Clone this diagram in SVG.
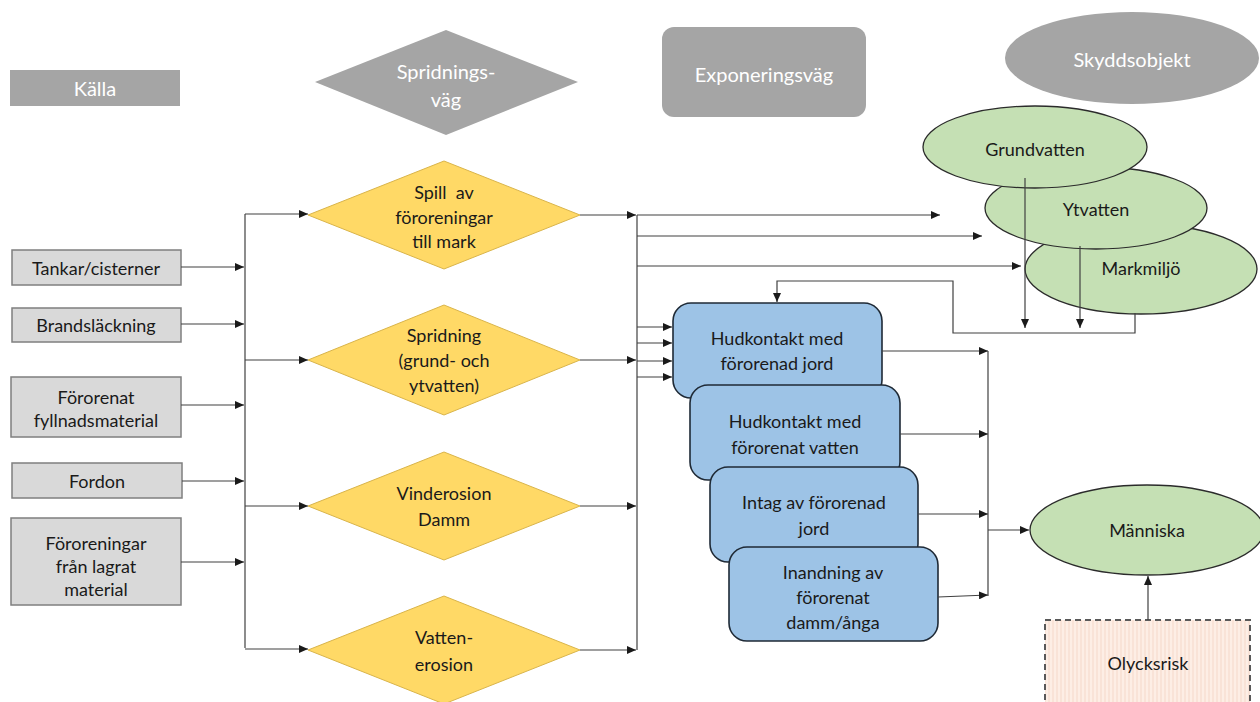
<svg xmlns="http://www.w3.org/2000/svg" width="1260" height="702" viewBox="0 0 1260 702">
<style>
text{font-family:Lato,"Open Sans","Liberation Sans",sans-serif;font-size:18px;fill:#1a1a1a;text-anchor:middle;dominant-baseline:central}
.hd{fill:#a5a5a5;stroke:none}
.hdt{fill:#ffffff;font-size:20px}
.src{fill:#d9d9d9;stroke:#7f7f7f;stroke-width:1.5}
.dia{fill:#ffd966;stroke:#d9b44a;stroke-width:1}
.exp{fill:#9dc3e6;stroke:#1f2a36;stroke-width:1.6}
.grn{fill:#c5e0b4;stroke:#2b2b2b;stroke-width:1.3}
.ln{fill:none;stroke:#404040;stroke-width:1.2}
.arr{marker-end:url(#ah)}
</style>
<defs>
<marker id="ah" markerUnits="userSpaceOnUse" markerWidth="9" markerHeight="8" refX="9" refY="4" orient="auto">
<path d="M0,0 L9,4 L0,8 z" fill="#1a1a1a"/>
</marker>
<pattern id="stripe" patternUnits="userSpaceOnUse" width="4" height="4">
<rect width="4" height="4" fill="#fdeee5"/>
<line x1="1" y1="0" x2="1" y2="4" stroke="#f6d9c9" stroke-width="1"/>
</pattern>
</defs>

<g id="hdr-kalla"><rect class="hd" x="10" y="70" width="170" height="36"/><text class="hdt" x="95" y="88">Källa</text></g>
<g id="hdr-spridningsvag"><polygon class="hd" points="315,82 446,30 578,82 446,135"/><text class="hdt" x="446" y="71">Spridnings-</text><text class="hdt" x="446" y="99">väg</text></g>
<g id="hdr-exponeringsvag"><rect class="hd" x="662" y="27" width="204" height="90" rx="12"/><text class="hdt" x="764" y="74">Exponeringsväg</text></g>
<g id="hdr-skyddsobjekt"><ellipse class="hd" cx="1132" cy="58" rx="127" ry="46"/><text class="hdt" x="1132" y="59">Skyddsobjekt</text></g>

<g id="src-tankar"><rect class="src" x="12" y="250" width="169" height="35"/><text x="96" y="268">Tankar/cisterner</text></g>
<g id="src-brand"><rect class="src" x="12" y="308" width="169" height="34"/><text x="96" y="325">Brandsläckning</text></g>
<g id="src-fyll"><rect class="src" x="11" y="377" width="170" height="60"/><text x="96" y="397">Förorenat</text><text x="96" y="420">fyllnadsmaterial</text></g>
<g id="src-fordon"><rect class="src" x="12" y="463" width="170" height="35"/><text x="97" y="481">Fordon</text></g>
<g id="src-lagrat"><rect class="src" x="11" y="518" width="170" height="87"/><text x="96" y="543">Föroreningar</text><text x="96" y="566">från lagrat</text><text x="96" y="589">material</text></g>

<g id="d-spill"><polygon class="dia" points="308,215 444,161 580,215 444,269"/><text x="444" y="192" xml:space="preserve">Spill  av</text><text x="444" y="217">föroreningar</text><text x="444" y="241">till mark</text></g>
<g id="d-spridning"><polygon class="dia" points="308,360 444,305 580,360 444,415"/><text x="444" y="335">Spridning</text><text x="444" y="360">(grund- och</text><text x="444" y="385">ytvatten)</text></g>
<g id="d-vind"><polygon class="dia" points="308,506 444,452 580,506 444,560"/><text x="444" y="493">Vinderosion</text><text x="444" y="519">Damm</text></g>
<g id="d-vatten"><polygon class="dia" points="308,650 444,596 580,650 444,704"/><text x="444" y="637">Vatten-</text><text x="444" y="664">erosion</text></g>

<g id="e-markmiljo"><ellipse class="grn" cx="1141" cy="269" rx="116" ry="45"/><text x="1141" y="268">Markmiljö</text></g>
<g id="e-ytvatten"><ellipse class="grn" cx="1096" cy="208" rx="111" ry="41"/><text x="1096" y="209">Ytvatten</text></g>
<g id="e-grundvatten"><ellipse class="grn" cx="1035" cy="147" rx="112" ry="41"/><text x="1035" y="149">Grundvatten</text></g>
<g id="e-manniska"><ellipse class="grn" cx="1147" cy="530" rx="117" ry="45"/><text x="1147" y="530">Människa</text></g>

<g id="b-hud-jord"><rect class="exp" x="673" y="303" width="209" height="95" rx="18"/><text x="777" y="338">Hudkontakt med</text><text x="777" y="363">förorenad jord</text></g>
<g id="b-hud-vatten"><rect class="exp" x="690" y="385" width="210" height="95" rx="18"/><text x="795" y="421">Hudkontakt med</text><text x="795" y="447">förorenat vatten</text></g>
<g id="b-intag"><rect class="exp" x="710" y="467" width="208" height="95" rx="18"/><text x="814" y="502">Intag av förorenad</text><text x="814" y="528">jord</text></g>
<g id="b-inandning"><rect class="exp" x="729" y="547" width="209" height="94" rx="18"/><text x="833" y="572">Inandning av</text><text x="833" y="597">förorenat</text><text x="833" y="622">damm/ånga</text></g>

<g id="olycksrisk"><rect x="1045" y="620" width="205" height="90" fill="url(#stripe)" stroke="#595959" stroke-width="2" stroke-dasharray="6,4"/><text x="1148" y="663">Olycksrisk</text></g>

<g id="connectors">
<path class="ln arr" d="M181,267 H244"/>
<path class="ln arr" d="M181,324 H244"/>
<path class="ln arr" d="M181,405 H244"/>
<path class="ln arr" d="M182,481 H244"/>
<path class="ln arr" d="M181,562 H244"/>
<path class="ln" d="M245,214 V648"/>
<path class="ln arr" d="M245,214 H308"/>
<path class="ln arr" d="M245,360 H308"/>
<path class="ln arr" d="M245,506 H308"/>
<path class="ln arr" d="M245,649 H308"/>
<path class="ln arr" d="M580,215 H636"/>
<path class="ln arr" d="M580,360 H636"/>
<path class="ln arr" d="M580,506 H636"/>
<path class="ln arr" d="M580,650 H636"/>
<path class="ln" d="M637,215 V650"/>
<path class="ln arr" d="M637,215 H940"/>
<path class="ln arr" d="M637,236 H982"/>
<path class="ln arr" d="M637,266 H1021"/>
<path class="ln arr" d="M637,327 H672"/>
<path class="ln arr" d="M637,343 H672"/>
<path class="ln arr" d="M637,361 H672"/>
<path class="ln arr" d="M637,377 H672"/>
<path class="ln arr" d="M1025,178 V328"/>
<path class="ln arr" d="M1080,246 V328"/>
<path class="ln arr" d="M1135,313 V333 H953 V281 H777 V302"/>
<path class="ln arr" d="M882,351 H988"/>
<path class="ln arr" d="M900,434 H988"/>
<path class="ln arr" d="M918,514 H988"/>
<path class="ln arr" d="M938,597 L988,595"/>
<path class="ln" d="M988,351 V596"/>
<path class="ln arr" d="M988,530 H1029"/>
<path class="ln arr" d="M1148,620 V576"/>
</g>
</svg>
